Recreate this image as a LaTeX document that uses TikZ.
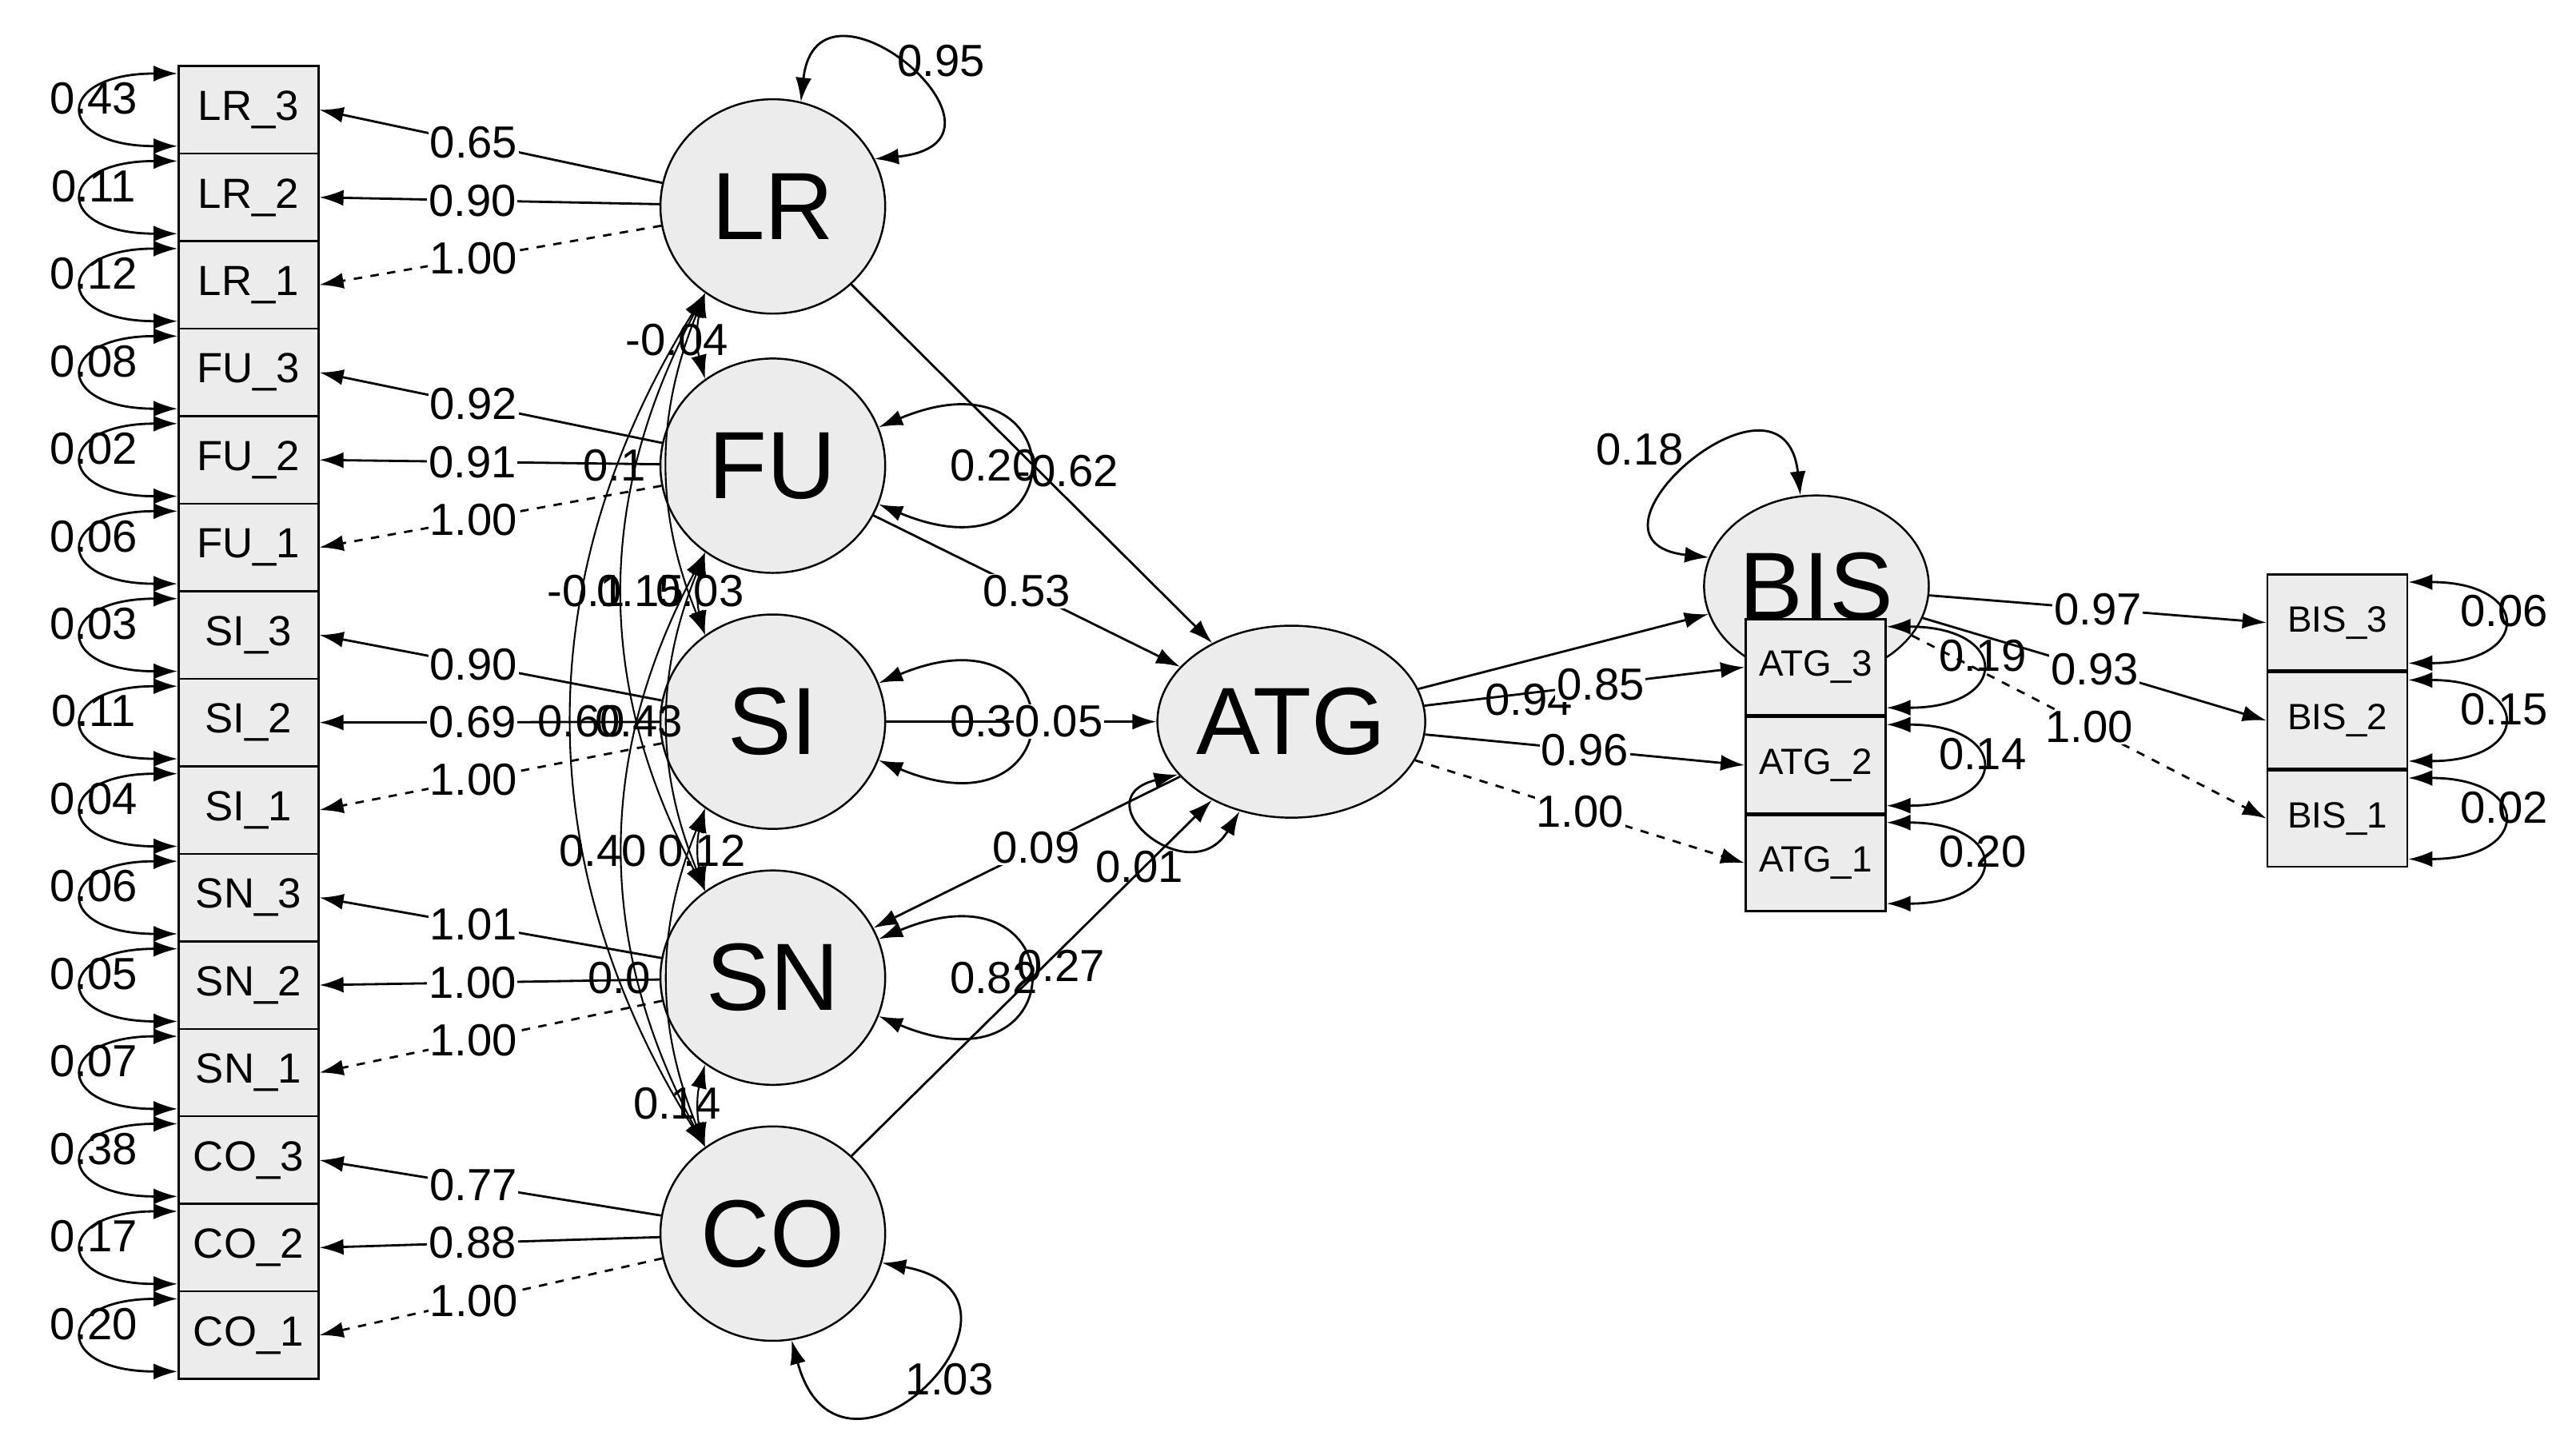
\documentclass[tikz,border=0pt]{standalone}
\usepackage{fontspec}
\setmainfont{Liberation Sans}
\usetikzlibrary{arrows.meta,shapes.geometric,positioning}

\begin{document}
\begin{tikzpicture}[x=0.02065cm,y=-0.02065cm,
% Latent and observed variable styles
    latent/.style={ellipse,draw,line width=0.7pt,fill=gray!15,minimum width=2.81cm,
		minimum height=2.68cm,inner sep=0pt,font=\fontsize{34}{34}\selectfont},
    cell/.style={rectangle,draw,line width=0.7pt,fill=gray!15,minimum width=1.75cm,
		minimum height=1.094cm,inner sep=0pt,font=\fontsize{15}{15}\selectfont},
    tcell/.style={cell,minimum height=1.2cm,font=\fontsize{13}{13}\selectfont},
% Label style
    lbl/.style={fill=white,inner sep=0.5pt,font=\fontsize{16}{16}\selectfont},
    flbl/.style={inner sep=0pt,font=\fontsize{16}{16}\selectfont},
% Path styles
    path/.style={line width=0.8pt,-{Latex[length=3mm,width=2mm]}},
    fixed/.style={path,dashed},
    var/.style={line width=0.8pt,{Latex[length=3mm,width=2mm]}-{Latex[length=3mm,width=2mm]}}
    ]
\useasboundingbox (0,0) rectangle (1560,867);
%% Latent variables
    \node (LR) [latent] at (468,125) {LR};
    \node (FU) [latent] at (468,282) {FU};
    \node (SI) [latent] at (468,437) {SI};
    \node (SN) [latent] at (468,592) {SN};
    \node (CO) [latent] at (468,747) {CO};
    \node (ATG) [latent,minimum height=2.4cm] at (782,437) {ATG};
    \node (BIS) [latent,minimum height=2.27cm] at (1100,355) {BIS};
%% Indicators of the exogenous factors
    \foreach \f/\k [count=\i from 0] in {LR/0,FU/3,SI/6,SN/9,CO/12}{
      \foreach \n [count=\j from 0] in {3,2,1}{
        \pgfmathsetmacro\yy{66.5+53*(\k+\j)}
        \node (\f\n) [cell] at (150.5,\yy) {\f\_\n};
      }
    }
%% Error variances (left)
    \foreach \c/\e in {LR3/0.43,LR2/0.11,LR1/0.12,FU3/0.08,FU2/0.02,FU1/0.06,
        SI3/0.03,SI2/0.11,SI1/0.04,SN3/0.06,SN2/0.05,SN1/0.07,
        CO3/0.38,CO2/0.17,CO1/0.20}{
      \draw[var] ([yshift=-3pt]\c.north west) .. controls +(-75,0) and +(-75,0)
        .. ([yshift=3pt]\c.south west);
      \node[flbl] at ([xshift=-1.05cm,yshift=4pt]\c.west) {\e};
    }
%% Loadings
    \foreach \f/\a/\b/\c in {LR/0.65/0.90/1.00,FU/0.92/0.91/1.00,SI/0.90/0.69/1.00,
        SN/1.01/1.00/1.00,CO/0.77/0.88/1.00}{
      \draw[path] (\f) -- (\f3.east) node[lbl,pos=0.55] {\a};
      \draw[path] (\f) -- (\f2.east) node[lbl,pos=0.55] {\b};
      \draw[fixed] (\f) -- (\f1.east) node[lbl,pos=0.55] {\c};
    }
%% Covariances between factors
    \foreach \p/\q/\bend in {LR/FU/15,FU/SI/15,SI/SN/15,SN/CO/15,
        LR/SI/22,FU/SN/22,SI/CO/22,LR/SN/28,FU/CO/28,LR/CO/32}{
      \draw[var,line width=0.6pt] (\p.232) to[bend right=\bend] (\q.128);
    }
    \node[flbl] at (410,206) {-0.04};
    \node[flbl] at (372,282) {0.1};
    \node[flbl] at (355,358) {-0.1};
    \node[flbl] at (388,358) {0.15};
    \node[flbl] at (424,358) {0.03};
    \node[flbl] at (352,437) {0.60};
    \node[flbl] at (387,437) {0.43};
    \node[flbl] at (365,515) {0.40};
    \node[flbl] at (425,515) {0.12};
    \node[flbl] at (375,592) {0.0};
    \node[flbl] at (410,668) {0.14};
%% Factor variances
    \draw[var] (LR.75) .. controls +(10,-90) and +(100,-10) .. (LR.25);
    \node[flbl] at (570,37) {0.95};
    \draw[var] (FU.20) .. controls +(120,-50) and +(120,50) .. (FU.-20)
      node[flbl,pos=0.5,xshift=-12pt] {0.20};
    \draw[var] (SI.20) .. controls +(120,-50) and +(120,50) .. (SI.-20)
      node[flbl,pos=0.5,xshift=-12pt] {0.37};
    \draw[var] (SN.20) .. controls +(120,-50) and +(120,50) .. (SN.-20)
      node[flbl,pos=0.5,xshift=-12pt] {0.82};
    \draw[var] (CO.-15) .. controls +(110,20) and +(30,110) .. (CO.-80);
    \node[flbl] at (575,835) {1.03};
%% Structural paths
    \draw[path] (LR) -- (ATG) node[flbl,pos=0.52,xshift=10pt] {-0.62};
    \draw[path] (FU) -- (ATG) node[lbl,pos=0.5] {0.53};
    \draw[path] (SI) -- (ATG) node[lbl,pos=0.64] {0.05};
    \draw[path] (ATG) -- (SN) node[lbl,pos=0.47] {0.09};
    \draw[path] (CO) -- (ATG) node[flbl,pos=0.55,xshift=4pt,yshift=-2pt] {0.27};
    \draw[var] (ATG.205) .. controls +(-60,15) and +(-30,50) .. (ATG.240);
    \node[flbl] at (690,525) {0.01};
    \draw[var] (BIS.165) .. controls +(-90,-10) and +(-10,-90) .. (BIS.100);
    \node[flbl] at (993,272) {0.18};
%% ATG indicators
    \node (ATG3) [tcell] at (1099.5,404) {ATG\_3};
    \node (ATG2) [tcell,below=0pt of ATG3] {ATG\_2};
    \node (ATG1) [tcell,below=0pt of ATG2] {ATG\_1};
    \draw[path] (ATG) -- (BIS) node[flbl,pos=0.38,yshift=-14pt] {0.94};
    \draw[path] (ATG) -- (ATG3.west) node[lbl,pos=0.55] {0.85};
    \draw[path] (ATG) -- (ATG2.west) node[lbl,pos=0.5] {0.96};
    \draw[fixed] (ATG) -- (ATG1.west) node[lbl,pos=0.5] {1.00};
%% BIS indicators
    \node (BIS3) [tcell] at (1415.5,377) {BIS\_3};
    \node (BIS2) [tcell,below=0pt of BIS3] {BIS\_2};
    \node (BIS1) [tcell,below=0pt of BIS2] {BIS\_1};
    \draw[path] (BIS) -- (BIS3.west) node[lbl,pos=0.5] {0.97};
    \draw[path] (BIS) -- (BIS2.west) node[lbl,pos=0.5] {0.93};
    \draw[fixed] (BIS) -- (BIS1.west) node[lbl,pos=0.5] {1.00};
%% Error variances (right)
    \foreach \c/\e in {ATG3/0.19,ATG2/0.14,ATG1/0.20,BIS3/0.06,BIS2/0.15,BIS1/0.02}{
      \draw[var] ([yshift=-3pt]\c.north east) .. controls +(75,0) and +(75,0)
        .. ([yshift=3pt]\c.south east);
      \node[flbl] at ([xshift=1.2cm,yshift=4pt]\c.east) {\e};
    }
\end{tikzpicture}
\end{document}
